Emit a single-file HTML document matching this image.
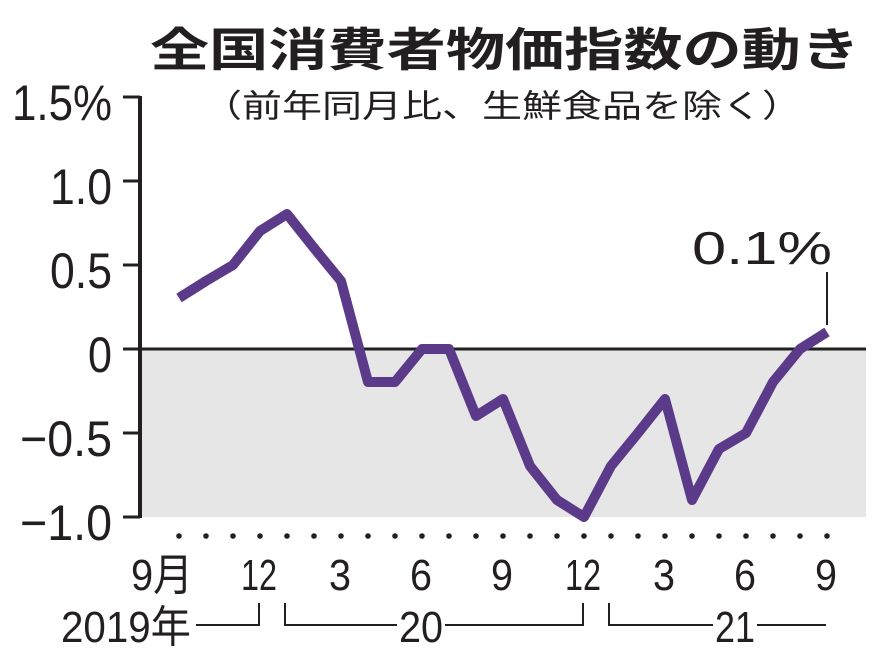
<!DOCTYPE html>
<html><head><meta charset="utf-8"><style>
body{margin:0;background:#fff;}
svg text{font-family:"Liberation Sans","Noto Sans CJK JP",sans-serif;fill:#231f20;}
</style></head><body>
<svg width="882" height="661" viewBox="0 0 882 661" xmlns="http://www.w3.org/2000/svg">
<rect width="882" height="661" fill="#fff"/>
<text x="505" y="66" font-size="46" font-weight="bold" text-anchor="middle" style="font-family:'Noto Sans CJK JP',sans-serif" textLength="710" lengthAdjust="spacingAndGlyphs">全国消費者物価指数の動き</text>
<text x="502" y="117" font-size="32" text-anchor="middle" style="font-family:'Noto Sans CJK JP',sans-serif" textLength="600" lengthAdjust="spacingAndGlyphs">（前年同月比、生鮮食品を除く）</text>
<rect x="141" y="349" width="725" height="168" fill="#e6e6e6"/>
<line x1="141" y1="349" x2="866" y2="349" stroke="#231f20" stroke-width="3"/>
<line x1="140" y1="96" x2="140" y2="518" stroke="#231f20" stroke-width="4"/>
<g stroke="#231f20" stroke-width="3">
<line x1="123" y1="97" x2="140" y2="97"/><line x1="123" y1="181" x2="140" y2="181"/>
<line x1="123" y1="265" x2="140" y2="265"/><line x1="123" y1="349" x2="140" y2="349"/>
<line x1="123" y1="433" x2="140" y2="433"/><line x1="123" y1="517" x2="140" y2="517"/>
</g>
<g font-size="50" text-anchor="end">
<text x="112" y="120" textLength="100" lengthAdjust="spacingAndGlyphs">1.5%</text>
<text x="112" y="204" textLength="62" lengthAdjust="spacingAndGlyphs">1.0</text>
<text x="112" y="288" textLength="62" lengthAdjust="spacingAndGlyphs">0.5</text>
<text x="112" y="372" textLength="24" lengthAdjust="spacingAndGlyphs">0</text>
<text x="112" y="456" textLength="92" lengthAdjust="spacingAndGlyphs">−0.5</text>
<text x="112" y="540" textLength="92" lengthAdjust="spacingAndGlyphs">−1.0</text>
</g>
<polyline fill="none" stroke="#5b3a8a" stroke-width="10" stroke-linejoin="round"
points="179,298 206,281 233,265 260,231 287,214 314,248 341,281 368,382 395,382 422,349 449,349 476,416 503,399 530,466 557,500 584,517 611,466 638,433 665,399 692,500 719,449 746,433 773,382 800,349 827,332"/>
<line x1="827" y1="272" x2="827" y2="325" stroke="#231f20" stroke-width="2"/>
<text x="762" y="264" font-size="46" text-anchor="middle" textLength="140" lengthAdjust="spacingAndGlyphs">0.1%</text>
<g fill="#231f20">
<circle cx="179" cy="536" r="2.8"/><circle cx="206" cy="536" r="2.8"/><circle cx="233" cy="536" r="2.8"/><circle cx="260" cy="536" r="2.8"/><circle cx="287" cy="536" r="2.8"/><circle cx="314" cy="536" r="2.8"/><circle cx="341" cy="536" r="2.8"/><circle cx="368" cy="536" r="2.8"/><circle cx="395" cy="536" r="2.8"/><circle cx="422" cy="536" r="2.8"/><circle cx="449" cy="536" r="2.8"/><circle cx="476" cy="536" r="2.8"/><circle cx="503" cy="536" r="2.8"/><circle cx="530" cy="536" r="2.8"/><circle cx="557" cy="536" r="2.8"/><circle cx="584" cy="536" r="2.8"/><circle cx="611" cy="536" r="2.8"/><circle cx="638" cy="536" r="2.8"/><circle cx="665" cy="536" r="2.8"/><circle cx="692" cy="536" r="2.8"/><circle cx="719" cy="536" r="2.8"/><circle cx="746" cy="536" r="2.8"/><circle cx="773" cy="536" r="2.8"/><circle cx="800" cy="536" r="2.8"/><circle cx="827" cy="536" r="2.8"/>
</g>
<g font-size="44" text-anchor="middle">
<text x="162" y="590" textLength="62" lengthAdjust="spacingAndGlyphs">9月</text>
<text x="259" y="590" textLength="36" lengthAdjust="spacingAndGlyphs">12</text>
<text x="340" y="590" textLength="22" lengthAdjust="spacingAndGlyphs">3</text>
<text x="421" y="590" textLength="22" lengthAdjust="spacingAndGlyphs">6</text>
<text x="502" y="590" textLength="22" lengthAdjust="spacingAndGlyphs">9</text>
<text x="583" y="590" textLength="36" lengthAdjust="spacingAndGlyphs">12</text>
<text x="664" y="590" textLength="22" lengthAdjust="spacingAndGlyphs">3</text>
<text x="745" y="590" textLength="22" lengthAdjust="spacingAndGlyphs">6</text>
<text x="826" y="590" textLength="22" lengthAdjust="spacingAndGlyphs">9</text>
<text x="126" y="642" textLength="130" lengthAdjust="spacingAndGlyphs">2019年</text>
<text x="421" y="642" textLength="44" lengthAdjust="spacingAndGlyphs">20</text>
<text x="735" y="642" textLength="40" lengthAdjust="spacingAndGlyphs">21</text>
</g>
<g fill="none" stroke="#231f20" stroke-width="2">
<polyline points="196,625 259,625 259,603"/>
<polyline points="285,603 285,625 397,625"/>
<polyline points="445,625 583,625 583,603"/>
<polyline points="609,603 609,625 713,625"/>
<line x1="757" y1="625" x2="826" y2="625"/>
</g>
</svg>
</body></html>
